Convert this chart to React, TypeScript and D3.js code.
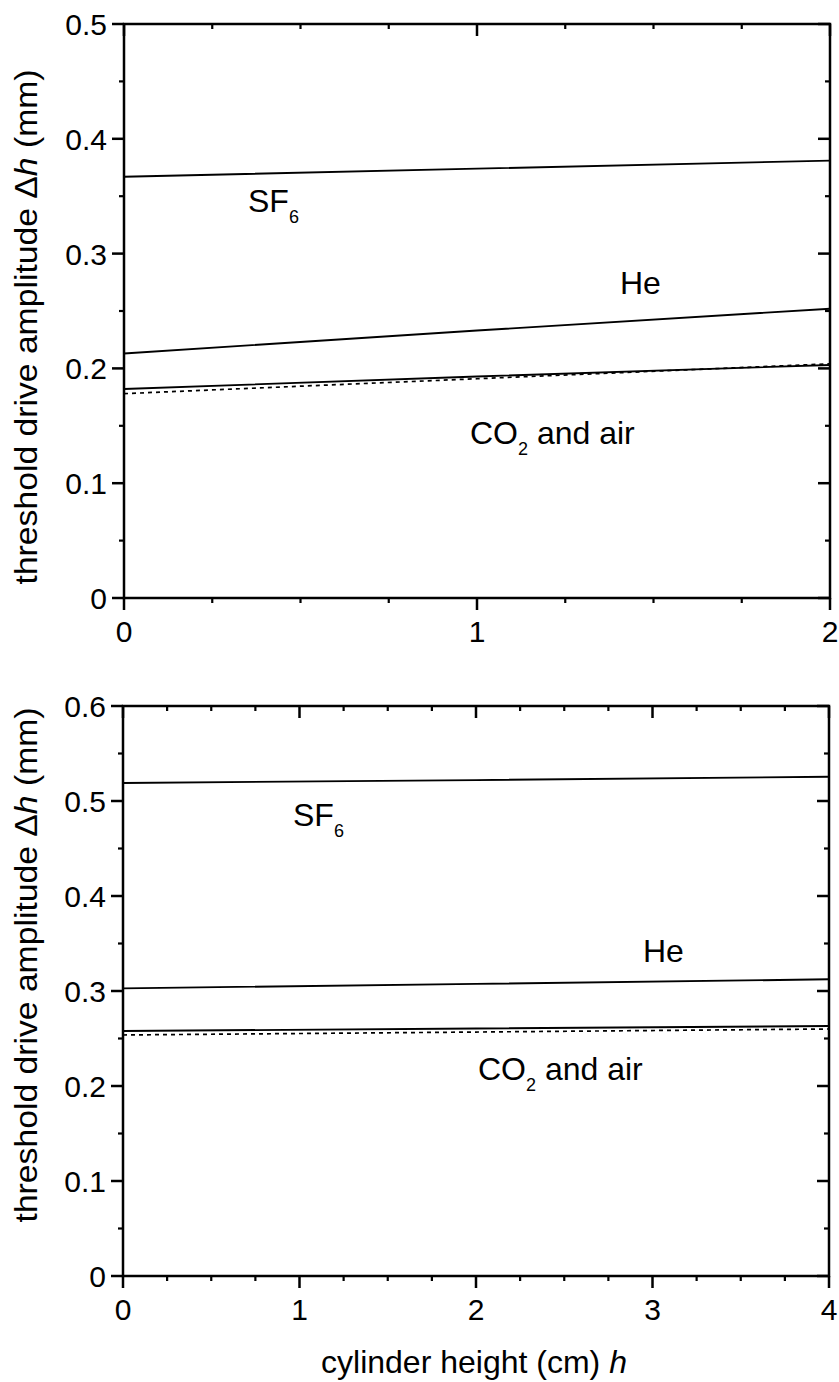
import React from "react";
import * as d3 from "d3";

// ---- data ----
const topX = [0, 1, 2];
const topSF6 = [0.367, 0.374, 0.381];
const topHe = [0.213, 0.233, 0.252];
const topCO2 = [0.182, 0.193, 0.203];
const topAir = [0.178, 0.191, 0.204];
const topYTicks = [0, 0.1, 0.2, 0.3, 0.4, 0.5];
const topXTicks = [0, 1, 2];

const botX = [0, 2, 4];
const botSF6 = [0.519, 0.522, 0.5255];
const botHe = [0.3028, 0.3075, 0.3123];
const botCO2 = [0.2579, 0.2605, 0.2632];
const botAir = [0.2537, 0.2568, 0.26];
const botYTicks = [0, 0.1, 0.2, 0.3, 0.4, 0.5, 0.6];
const botXTicks = [0, 1, 2, 3, 4];

const FONT = "'Liberation Sans', Arial, sans-serif";

type Series = { values: number[]; dashed?: boolean };
type Label = { x: number; y: number; main: string; sub?: string; rest?: string };

function Panel(props: {
  left: number; right: number; top: number; bottom: number;
  xMax: number; yMax: number; xs: number[]; series: Series[];
  yTicks: number[]; xTicks: number[]; labels: Label[]; titleY: number;
}) {
  const { left, right, top, bottom, xMax, yMax, xs, series, yTicks, xTicks, labels, titleY } = props;
  const x = d3.scaleLinear().domain([0, xMax]).range([left, right]);
  const y = d3.scaleLinear().domain([0, yMax]).range([bottom, top]);
  const line = d3.line<number>().x((_, i) => x(xs[i])).y((v) => y(v));
  const xMinor = d3.range(0, xMax + 1e-9, 0.25).filter((v) => Math.abs(v - Math.round(v)) > 1e-6);
  const yMinor = d3.range(0.05, yMax, 0.1);
  const MAJ = 12, MIN = 5;
  return (
    <g>
      {series.map((s, i) => (
        <path key={i} d={line(s.values) || ""} fill="none" stroke="#000"
          strokeWidth={s.dashed ? 1.7 : 1.9} strokeDasharray={s.dashed ? "4,4" : undefined} />
      ))}
      <rect x={left} y={top} width={right - left} height={bottom - top} fill="none" stroke="#000" strokeWidth={2.5} />
      {xTicks.map((t) => (
        <g key={"xt" + t}>
          <line x1={x(t)} x2={x(t)} y1={bottom} y2={bottom + MAJ} stroke="#000" strokeWidth={2.5} />
          <line x1={x(t)} x2={x(t)} y1={top} y2={top + MAJ} stroke="#000" strokeWidth={2.5} />
          <text x={x(t)} y={bottom + 44} textAnchor="middle" fontSize={30} fontFamily={FONT}>{t}</text>
        </g>
      ))}
      {xMinor.map((t) => (
        <g key={"xm" + t}>
          <line x1={x(t)} x2={x(t)} y1={bottom} y2={bottom + MIN} stroke="#000" strokeWidth={2.2} />
          <line x1={x(t)} x2={x(t)} y1={top} y2={top + MIN} stroke="#000" strokeWidth={2.2} />
        </g>
      ))}
      {yTicks.map((t) => (
        <g key={"yt" + t}>
          <line x1={left - MAJ} x2={left} y1={y(t)} y2={y(t)} stroke="#000" strokeWidth={2.5} />
          <line x1={right - MAJ} x2={right} y1={y(t)} y2={y(t)} stroke="#000" strokeWidth={2.5} />
          <text x={left - 17} y={y(t) + 11} textAnchor="end" fontSize={30} fontFamily={FONT}>{t === 0 ? "0" : d3.format(".1f")(t)}</text>
        </g>
      ))}
      {yMinor.map((t) => (
        <g key={"ym" + t}>
          <line x1={left - MIN} x2={left} y1={y(t)} y2={y(t)} stroke="#000" strokeWidth={2.2} />
          <line x1={right - MIN} x2={right} y1={y(t)} y2={y(t)} stroke="#000" strokeWidth={2.2} />
        </g>
      ))}
      {labels.map((l, i) => (
        <text key={i} x={l.x} y={l.y} fontSize={32} fontFamily={FONT}>
          {l.main}
          {l.sub && <tspan fontSize={18} dy={11}>{l.sub}</tspan>}
          {l.rest && <tspan dy={l.sub ? -11 : 0}>{l.rest}</tspan>}
        </text>
      ))}
      <text transform={`translate(37,${titleY}) rotate(-90)`} textAnchor="middle" fontSize={32} fontFamily={FONT}
        textLength={515} lengthAdjust="spacingAndGlyphs">
        threshold drive amplitude Δ<tspan fontStyle="italic">h</tspan> (mm)
      </text>
    </g>
  );
}

export default function App() {
  return (
    <svg width={839} height={1382} style={{ position: "absolute", left: 0, top: 0, background: "#fff" }}>
      <rect width={839} height={1382} fill="#fff" />
      <Panel left={124} right={830} top={24} bottom={598} xMax={2} yMax={0.5} xs={topX}
        series={[{ values: topSF6 }, { values: topHe }, { values: topCO2 }, { values: topAir, dashed: true }]}
        yTicks={topYTicks} xTicks={topXTicks} titleY={327}
        labels={[
          { x: 248, y: 212, main: "SF", sub: "6" },
          { x: 620, y: 294, main: "He" },
          { x: 470, y: 444, main: "CO", sub: "2", rest: " and air" },
        ]} />
      <Panel left={123} right={829} top={706} bottom={1276} xMax={4} yMax={0.6} xs={botX}
        series={[{ values: botSF6 }, { values: botHe }, { values: botCO2 }, { values: botAir, dashed: true }]}
        yTicks={botYTicks} xTicks={botXTicks} titleY={965}
        labels={[
          { x: 293, y: 826, main: "SF", sub: "6" },
          { x: 643, y: 962, main: "He" },
          { x: 478, y: 1080, main: "CO", sub: "2", rest: " and air" },
        ]} />
      <text x={474} y={1373} textAnchor="middle" fontSize={32} fontFamily={FONT}>
        cylinder height (cm) <tspan fontStyle="italic">h</tspan>
      </text>
    </svg>
  );
}
